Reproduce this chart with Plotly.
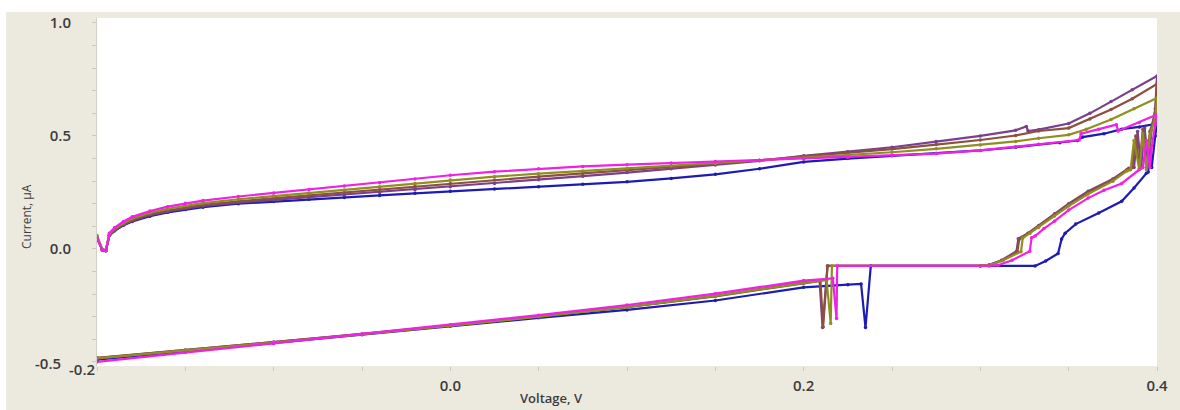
import plotly.graph_objects as go

# Shared forward-scan voltage grid (V)
FWD_V = [-0.2, -0.197, -0.195, -0.193, -0.19, -0.185, -0.18, -0.17, -0.16, -0.15,
         -0.14, -0.12, -0.10, -0.08, -0.06, -0.04, -0.02, 0.0, 0.025, 0.05,
         0.075, 0.10, 0.125, 0.15, 0.175, 0.20, 0.225, 0.25, 0.275, 0.30, 0.32]

# Forward-scan currents (uA) on FWD_V
BLUE_FWD_I = [0.05, -0.005, -0.008, 0.06, 0.08, 0.105, 0.122, 0.145, 0.162, 0.175,
              0.185, 0.20, 0.21, 0.22, 0.228, 0.237, 0.246, 0.255, 0.265, 0.275,
              0.286, 0.297, 0.312, 0.33, 0.355, 0.385, 0.40, 0.412, 0.422, 0.436, 0.45]
PURPLE_FWD_I = [0.05, -0.005, -0.008, 0.06, 0.082, 0.107, 0.125, 0.15, 0.166, 0.179,
                0.19, 0.205, 0.217, 0.228, 0.239, 0.25, 0.262, 0.275, 0.29, 0.306,
                0.322, 0.338, 0.355, 0.372, 0.39, 0.412, 0.43, 0.45, 0.475, 0.50, 0.525]
BROWN_FWD_I = [0.05, -0.005, -0.008, 0.06, 0.085, 0.11, 0.128, 0.153, 0.17, 0.184,
               0.195, 0.211, 0.224, 0.237, 0.25, 0.263, 0.277, 0.29, 0.305, 0.32,
               0.334, 0.348, 0.362, 0.376, 0.392, 0.41, 0.425, 0.442, 0.462, 0.482, 0.502]
OLIVE_FWD_I = [0.06, 0.0, -0.005, 0.065, 0.09, 0.115, 0.135, 0.16, 0.178, 0.192,
               0.203, 0.22, 0.234, 0.248, 0.261, 0.275, 0.29, 0.305, 0.32, 0.333,
               0.345, 0.356, 0.367, 0.378, 0.39, 0.403, 0.415, 0.428, 0.443, 0.46, 0.476]
MAGENTA_FWD_I = [0.05, -0.005, -0.008, 0.07, 0.095, 0.122, 0.142, 0.168, 0.187, 0.202,
                 0.214, 0.232, 0.248, 0.263, 0.278, 0.293, 0.31, 0.326, 0.342, 0.355,
                 0.365, 0.373, 0.38, 0.387, 0.392, 0.398, 0.405, 0.413, 0.422, 0.436, 0.452]

# Upper end of the forward scan, up to the switching potential
BLUE_TAIL_V = [0.333, 0.345, 0.355, 0.358, 0.37, 0.38, 0.39, 0.40]
BLUE_TAIL_I = [0.462, 0.47, 0.48, 0.495, 0.51, 0.53, 0.54, 0.555]
PURPLE_TAIL_V = [0.326, 0.327, 0.333, 0.35, 0.362, 0.374, 0.386, 0.40]
PURPLE_TAIL_I = [0.542, 0.522, 0.528, 0.555, 0.60, 0.652, 0.705, 0.765]
BROWN_TAIL_V = [0.333, 0.35, 0.362, 0.374, 0.386, 0.40]
BROWN_TAIL_I = [0.522, 0.535, 0.575, 0.617, 0.665, 0.73]
OLIVE_TAIL_V = [0.333, 0.35, 0.36, 0.374, 0.387, 0.40]
OLIVE_TAIL_I = [0.49, 0.505, 0.53, 0.573, 0.62, 0.668]
MAGENTA_TAIL_V = [0.333, 0.35, 0.356, 0.357, 0.367, 0.377, 0.378, 0.39, 0.40]
MAGENTA_TAIL_I = [0.463, 0.476, 0.482, 0.51, 0.53, 0.55, 0.522, 0.56, 0.595]

# Reverse scan, from 0.4 V back to -0.2 V
BLUE_REV_V = [0.399, 0.397, 0.396, 0.395, 0.394, 0.387, 0.38, 0.367, 0.354, 0.348,
              0.346, 0.344, 0.337, 0.331, 0.238, 0.235, 0.2325, 0.225, 0.20, 0.15,
              0.10, 0.05, 0.0, -0.05, -0.10, -0.15, -0.2]
BLUE_REV_I = [0.50, 0.36, 0.45, 0.34, 0.335, 0.27, 0.211, 0.159, 0.11, 0.07,
              0.044, -0.02, -0.053, -0.075, -0.075, -0.348, -0.155, -0.158, -0.17, -0.228,
              -0.27, -0.305, -0.342, -0.38, -0.418, -0.455, -0.49]
PURPLE_REV_V = [0.399, 0.397, 0.395, 0.393, 0.391, 0.389, 0.387, 0.384, 0.375, 0.361,
                0.35, 0.342, 0.333, 0.327, 0.3215, 0.3205, 0.312, 0.305, 0.30, 0.2135,
                0.2107, 0.209, 0.20, 0.15, 0.10, 0.05, 0.0, -0.05, -0.10, -0.15, -0.2]
PURPLE_REV_I = [0.62, 0.53, 0.37, 0.535, 0.36, 0.52, 0.36, 0.357, 0.31, 0.255,
                0.20, 0.156, 0.103, 0.07, 0.045, -0.01, -0.05, -0.07, -0.075, -0.075,
                -0.348, -0.14, -0.148, -0.208, -0.256, -0.298, -0.338, -0.376, -0.412, -0.447, -0.483]
BROWN_REV_V = [0.399, 0.396, 0.394, 0.392, 0.39, 0.388, 0.386, 0.383, 0.375, 0.361,
               0.35, 0.342, 0.333, 0.327, 0.322, 0.321, 0.312, 0.305, 0.30, 0.2135,
               0.211, 0.2095, 0.20, 0.15, 0.10, 0.05, 0.0, -0.05, -0.10, -0.15, -0.2]
BROWN_REV_I = [0.60, 0.52, 0.36, 0.53, 0.355, 0.50, 0.36, 0.352, 0.307, 0.25,
               0.197, 0.152, 0.10, 0.068, 0.043, -0.012, -0.052, -0.072, -0.075, -0.075,
               -0.345, -0.142, -0.152, -0.21, -0.258, -0.30, -0.34, -0.377, -0.413, -0.448, -0.482]
OLIVE_REV_V = [0.399, 0.396, 0.394, 0.392, 0.39, 0.387, 0.385, 0.383, 0.375, 0.361,
               0.35, 0.342, 0.333, 0.328, 0.324, 0.323, 0.313, 0.306, 0.30, 0.216,
               0.2153, 0.213, 0.20, 0.15, 0.10, 0.05, 0.0, -0.05, -0.10, -0.15, -0.2]
OLIVE_REV_I = [0.58, 0.50, 0.35, 0.51, 0.35, 0.48, 0.35, 0.345, 0.30, 0.243,
               0.19, 0.146, 0.095, 0.068, 0.048, -0.012, -0.05, -0.07, -0.075, -0.075,
               -0.33, -0.138, -0.15, -0.208, -0.257, -0.30, -0.34, -0.378, -0.414, -0.45, -0.484]
MAGENTA_REV_V = [0.399, 0.397, 0.396, 0.394, 0.392, 0.391, 0.38, 0.37, 0.361, 0.35,
                 0.342, 0.336, 0.331, 0.329, 0.328, 0.318, 0.31, 0.305, 0.219, 0.2186,
                 0.2165, 0.20, 0.15, 0.10, 0.05, 0.0, -0.05, -0.10, -0.15, -0.2]
MAGENTA_REV_I = [0.55, 0.45, 0.36, 0.48, 0.36, 0.357, 0.29, 0.26, 0.225, 0.172,
                 0.123, 0.09, 0.057, 0.05, -0.01, -0.05, -0.072, -0.075, -0.075, -0.308,
                 -0.13, -0.14, -0.198, -0.248, -0.293, -0.335, -0.377, -0.418, -0.458, -0.50]

COLORS = {
    "blue": "#1c1cb4",
    "purple": "#7a3f8e",
    "brown": "#8b5040",
    "olive": "#8f8f1f",
    "magenta": "#f020e8",
}

series = [
    ("blue", BLUE_FWD_I, BLUE_TAIL_V, BLUE_TAIL_I, BLUE_REV_V, BLUE_REV_I),
    ("purple", PURPLE_FWD_I, PURPLE_TAIL_V, PURPLE_TAIL_I, PURPLE_REV_V, PURPLE_REV_I),
    ("brown", BROWN_FWD_I, BROWN_TAIL_V, BROWN_TAIL_I, BROWN_REV_V, BROWN_REV_I),
    ("olive", OLIVE_FWD_I, OLIVE_TAIL_V, OLIVE_TAIL_I, OLIVE_REV_V, OLIVE_REV_I),
    ("magenta", MAGENTA_FWD_I, MAGENTA_TAIL_V, MAGENTA_TAIL_I, MAGENTA_REV_V, MAGENTA_REV_I),
]

fig = go.Figure()
for name, fwd_i, tail_v, tail_i, rev_v, rev_i in series:
    fig.add_trace(go.Scatter(
        x=FWD_V + tail_v + rev_v,
        y=fwd_i + tail_i + rev_i,
        mode="lines+markers",
        name=name,
        line=dict(color=COLORS[name], width=2.2),
        marker=dict(color=COLORS[name], size=3.5),
        showlegend=False,
    ))

TICK_FONT = dict(family="Open Sans", size=15, color="#3c3c3c", weight=600)
TICK_GREY = "#c9c9c3"

fig.update_layout(
    width=1180, height=410,
    margin=dict(l=97, r=22, t=16, b=44),
    paper_bgcolor="#ece9df",
    plot_bgcolor="#ffffff",
    xaxis=dict(
        range=[-0.2, 0.4],
        tickvals=[0.0, 0.2, 0.4],
        ticktext=["0.0", "0.2", "0.4"],
        ticks="outside", ticklen=4, tickcolor=TICK_GREY,
        minor=dict(dtick=0.05, tick0=-0.2, ticks="outside", ticklen=4, tickcolor=TICK_GREY),
        showgrid=False, zeroline=False, showline=False,
        tickfont=TICK_FONT, ticklabelstandoff=2,
    ),
    yaxis=dict(
        range=[-0.518, 1.022],
        tickvals=[0.0, 0.5, 1.0],
        ticktext=["0.0", "0.5", "1.0"],
        ticks="outside", ticklen=4, tickcolor=TICK_GREY,
        minor=dict(dtick=0.1, tick0=-0.5, ticks="outside", ticklen=4, tickcolor=TICK_GREY),
        showgrid=False, zeroline=False,
        showline=True, linecolor="#d2d0c8", linewidth=1,
        tickfont=TICK_FONT, ticklabelstandoff=18,
    ),
    shapes=[
        # white outer border strips (top and left)
        dict(type="rect", xref="paper", yref="paper", x0=-0.1, x1=1.03,
             y0=(366 - 10) / 350, y1=1.2, fillcolor="#ffffff", line_width=0, layer="below"),
        dict(type="rect", xref="paper", yref="paper", x0=-0.1, x1=(6 - 97) / 1062,
             y0=-0.2, y1=1.2, fillcolor="#ffffff", line_width=0, layer="below"),
    ],
    annotations=[
        dict(text="-0.5", xref="paper", yref="paper", x=(63 - 97) / 1062, y=(366 - 363) / 350,
             xanchor="right", yanchor="middle", showarrow=False, font=TICK_FONT),
        dict(text="-0.2", xref="paper", yref="paper", x=(97 - 97) / 1062, y=(366 - 369) / 350,
             xanchor="right", yanchor="middle", showarrow=False, font=TICK_FONT),
        dict(text="Current, μA", xref="paper", yref="paper", x=(27 - 97) / 1062, y=(366 - 216) / 350,
             textangle=-90, xanchor="center", yanchor="middle", showarrow=False,
             font=dict(family="Open Sans", size=12, color="#3c3c3c")),
        dict(text="Voltage, V", xref="paper", yref="paper", x=(552 - 97) / 1062, y=(366 - 398) / 350,
             xanchor="center", yanchor="middle", showarrow=False,
             font=dict(family="Open Sans", size=13, color="#3c3c3c", weight=600)),
    ],
)

fig.write_html("out.html")
